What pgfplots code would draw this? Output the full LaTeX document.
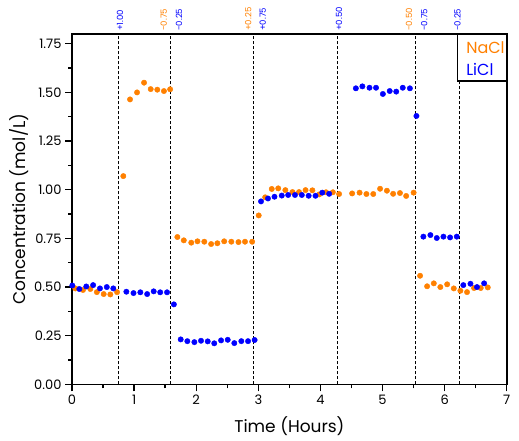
\documentclass[border=0pt]{standalone}
\usepackage{pgfplots}
\pgfplotsset{compat=1.18}
\usepackage{fontspec}
\setmainfont{Poppins}
\definecolor{naorange}{RGB}{255,128,0}
\definecolor{liblue}{RGB}{0,0,255}
\pgfplotstableread{
t c
0.053 0.493
0.177 0.485
0.295 0.490
0.400 0.474
0.510 0.464
0.617 0.462
0.725 0.474
0.826 1.070
0.934 1.464
1.047 1.500
1.160 1.550
1.267 1.517
1.373 1.514
1.480 1.507
1.580 1.516
1.696 0.757
1.800 0.740
1.920 0.728
2.020 0.735
2.130 0.733
2.240 0.721
2.340 0.725
2.450 0.735
2.565 0.733
2.680 0.731
2.785 0.733
2.900 0.733
3.006 0.868
3.110 0.961
3.216 1.004
3.320 1.007
3.435 0.998
3.550 0.988
3.655 0.988
3.760 0.998
3.870 0.997
3.980 0.976
4.090 0.987
4.200 0.987
4.300 0.978
4.510 0.981
4.630 0.985
4.740 0.978
4.850 0.978
4.960 1.005
5.070 0.995
5.170 0.979
5.280 0.983
5.380 0.968
5.500 0.985
5.604 0.558
5.717 0.504
5.825 0.519
5.930 0.500
6.040 0.514
6.147 0.493
6.253 0.481
6.360 0.474
6.473 0.495
6.580 0.495
6.694 0.498
}\nacl
\pgfplotstableread{
t c
0.005 0.508
0.118 0.490
0.230 0.503
0.340 0.510
0.450 0.493
0.560 0.500
0.665 0.493
0.875 0.476
0.990 0.469
1.100 0.473
1.210 0.464
1.315 0.478
1.420 0.473
1.530 0.473
1.640 0.411
1.750 0.231
1.857 0.222
1.970 0.217
2.077 0.224
2.185 0.221
2.290 0.211
2.400 0.226
2.507 0.229
2.613 0.212
2.726 0.222
2.834 0.222
2.940 0.228
3.043 0.940
3.155 0.955
3.260 0.964
3.377 0.970
3.480 0.973
3.590 0.973
3.700 0.973
3.810 0.969
3.920 0.969
4.030 0.985
4.140 0.979
4.570 1.521
4.675 1.531
4.790 1.524
4.895 1.524
5.005 1.492
5.115 1.507
5.220 1.504
5.325 1.524
5.440 1.521
5.545 1.379
5.657 0.759
5.770 0.767
5.873 0.752
5.980 0.759
6.087 0.755
6.195 0.759
6.300 0.510
6.415 0.517
6.520 0.500
6.635 0.519
}\licl
\begin{document}
\begin{tikzpicture}
\begin{axis}[
  at={(0,0)}, anchor=south west,
  scale only axis, width=434.7pt, height=350.3pt,
  xmin=0, xmax=7, ymin=0, ymax=1.8,
  xtick={0,1,2,3,4,5,6,7},
  ytick={0,0.25,0.5,0.75,1,1.25,1.5,1.75},
  minor x tick num=1, minor y tick num=1,
  tick align=outside, tick pos=left,
  major tick length=7pt, minor tick length=4pt,
  axis line style={line width=1.6pt},
  every tick/.style={black, line width=1.4pt},
  clip=false,
  /pgf/number format/assume math mode=true,
  yticklabel style={/pgf/number format/.cd, fixed, fixed zerofill, precision=2},
  ticklabel style={font=\fontsize{13}{13}\selectfont},
  xlabel={Time (Hours)}, ylabel={Concentration (mol/L)},
  label style={font=\fontsize{17}{17}\selectfont},
  xlabel style={yshift=-5pt},
  ylabel style={yshift=-1pt},
]
\foreach \xx in {0.75,1.58,2.92,4.27,5.53,6.24}{
  \edef\tmp{\noexpand\addplot[black, line width=0.8pt, dash pattern=on 3pt off 2pt, forget plot] coordinates {(\xx,0) (\xx,1.8)};}
  \tmp
}
\addplot[only marks, mark=*, mark size=2.7pt, color=naorange, mark options={draw=naorange, fill=naorange}] table[x=t,y=c] {\nacl};
\addplot[only marks, mark=*, mark size=2.7pt, color=liblue, mark options={draw=liblue, fill=liblue}] table[x=t,y=c] {\licl};
\draw[line width=1.2pt, fill=white] (axis cs:6.2,1.8) rectangle (axis cs:7,1.559);
\node[anchor=base west, text=naorange, inner sep=0pt, font=\fontsize{16}{16}\selectfont] at (axis cs:6.345,1.701) {NaCl};
\node[anchor=base west, text=liblue, inner sep=0pt, font=\fontsize{16}{16}\selectfont] at (axis cs:6.345,1.588) {LiCl};
\begin{scope}[every node/.style={rotate=90, anchor=west, inner sep=3pt, font=\fontsize{8.5}{8.5}\selectfont}]
\node[text=liblue] at (axis cs:0.773,1.8) {+1.00};
\node[text=naorange] at (axis cs:1.477,1.8) {-0.75};
\node[text=liblue] at (axis cs:1.723,1.8) {-0.25};
\node[text=naorange] at (axis cs:2.839,1.8) {+0.25};
\node[text=liblue] at (axis cs:3.071,1.8) {+0.75};
\node[text=liblue] at (axis cs:4.30,1.8) {+0.50};
\node[text=naorange] at (axis cs:5.427,1.8) {-0.50};
\node[text=liblue] at (axis cs:5.673,1.8) {-0.75};
\node[text=liblue] at (axis cs:6.205,1.8) {-0.25};
\end{scope}
\end{axis}
\pgfresetboundingbox
\path (-72pt,-55.7pt) rectangle (446.9pt,384.3pt);
\end{tikzpicture}
\end{document}
